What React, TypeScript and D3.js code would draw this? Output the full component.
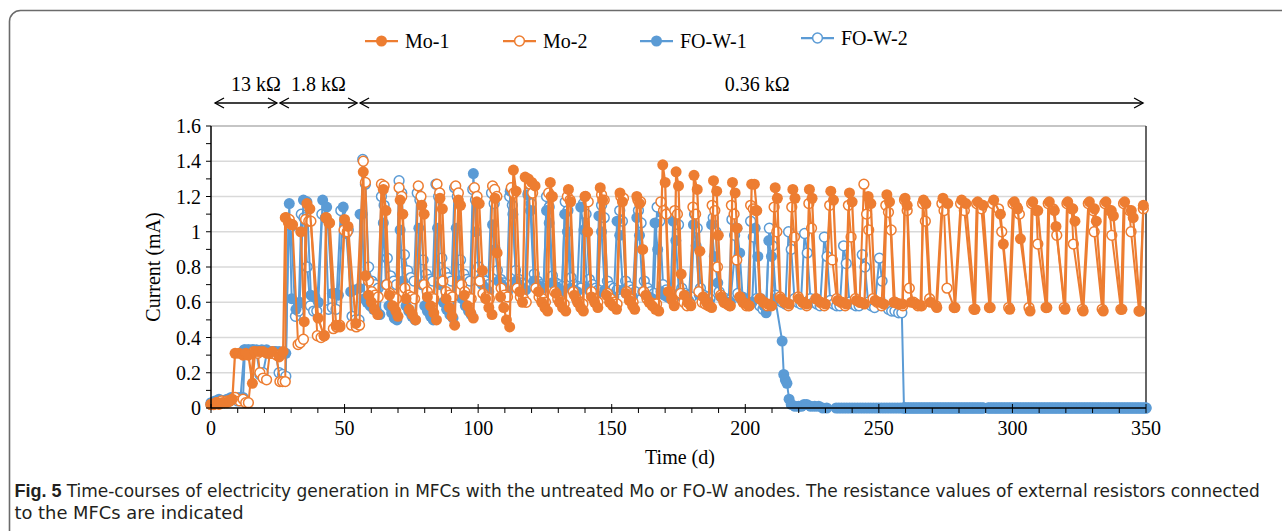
import React from 'react';
import * as d3 from 'd3';

const W = 1282;
const H = 531;
const ORANGE = '#ED7D31';
const BLUE = '#5B9BD5';

const xTicks = [0, 50, 100, 150, 200, 250, 300, 350];
const xMinorTicks = d3.range(0, 351, 10);
const yTicks = [0, 0.2, 0.4, 0.6, 0.8, 1, 1.2, 1.4, 1.6];
const yMinorTicks = d3.range(0, 1.61, 0.1);
const seriesNames = ['Mo-1', 'Mo-2', 'FO-W-1', 'FO-W-2'];

const resistors = [
  { label: '13 kΩ', from: 1.5, to: 24.7, at: 16.8 },
  { label: '1.8 kΩ', from: 25.8, to: 54.7, at: 40.2 },
  { label: '0.36 kΩ', from: 55.8, to: 348.9, at: 204.5 },
];

const mo1: [number, number][] = [
  [0,0.02],[1,0.02],[2,0.03],[3,0.02],[4,0.03],[5,0.03],[6,0.03],[7,0.04],[8,0.05],[9,0.31],[10.5,0.31],[12,0.3],[13,0.31],[14,0.3],[15.5,0.14],[16.5,0.32],[18,0.32],[19.5,0.32],[21,0.31],[23,0.32],[25.5,0.29],[27,0.32],
  [27.8,1.08],[29,1.05],[30.2,1.04],[33.6,1.0],[34.9,0.49],[35.9,1.16],[37,1.13],[40.1,0.51],[42.3,0.41],[43.2,1.08],[44.4,1.05],[46.8,0.47],[48.3,0.46],[50,1.07],[51.3,1.03],[54.2,0.48],
  [57,1.34],[57.8,0.75],[59,0.64],[60,0.6],[61.2,0.56],[62.4,0.53],
  [64.5,1.24],[65.5,1.12],[66.8,0.64],[68,0.58],[69.2,0.55],[70,0.52],
  [70.8,1.18],[71.8,1.1],[73,0.62],[74.2,0.56],[75.4,0.53],[76.6,0.5],
  [78.9,1.15],[79.8,1.1],[81,0.63],[82.2,0.58],[83.4,0.54],[84.4,0.5],
  [85.7,1.19],[86.6,1.13],[88,0.62],[89.2,0.57],[90.2,0.52],[91.2,0.47],
  [92.6,1.18],[93.4,1.15],[94.8,0.64],[96,0.58],[97.2,0.54],[98.2,0.51],
  [99.5,1.17],[100.4,1.16],[101.6,0.78],[102.8,0.62],[104,0.57],[105.2,0.53],
  [106.3,1.19],[107.1,0.88],[108.4,0.63],[109.6,0.57],[110.6,0.5],[111.8,0.46],
  [113.2,1.35],[114.2,1.23],[115.6,0.66],[116.6,0.6],[117.6,1.31],[118.8,1.3],[120.1,1.28],[121.3,1.26],[122.6,0.66],[123.8,0.6],[125,0.57],[126,0.55],
  [127,1.28],[127.8,1.2],[129.2,0.65],[130.4,0.6],[131.6,0.57],[132.8,0.55],
  [133.8,1.24],[134.6,1.17],[136,0.64],[137.2,0.6],[138.4,0.57],[139.4,0.55],
  [140,1.2],[141,1.0],[142.4,0.63],[143.6,0.6],[144.8,0.57],
  [145.7,1.25],[146.6,1.18],[148,0.64],[149.2,0.6],[150.4,0.58],[151.8,0.56],
  [153.1,1.22],[154,1.17],[155.4,0.65],[156.6,0.61],[157.8,0.58],[158.6,0.56],
  [159.4,1.2],[160.4,1.16],[161.6,0.9],[162.8,0.64],[164,0.6],[165.2,0.58],[166.4,0.56],[167.6,0.55],
  [169.1,1.38],[170,1.28],[171.2,0.66],[172.4,0.62],[173.4,0.58],
  [174.1,1.34],[175,1.26],[176,0.76],[177.2,0.64],[178.4,0.6],[179.6,0.58],
  [180.8,1.32],[182,1.24],[183,0.89],[184.2,0.63],[185.4,0.6],[186.6,0.58],[187.4,0.57],
  [188.1,1.29],[189.3,1.23],[189.9,0.98],[191,0.63],[192.2,0.6],[193.4,0.59],[194.4,0.58],
  [195.2,1.28],[196.2,1.22],[196.9,1.02],[198,0.63],[199.2,0.6],[200.4,0.59],[201.4,0.58],
  [202.4,1.27],[203.4,1.27],[204.3,1.12],[205.6,0.62],[207,0.6],[208.4,0.59],[209.8,0.58],
  [211.2,1.25],[212,1.19],[213.2,0.62],[214.8,0.6],[216.4,0.59],
  [217.8,1.24],[218.6,1.19],[220,0.62],[221.6,0.6],[223,0.59],
  [224,1.24],[225,1.19],[226.6,0.62],[228.2,0.6],[230,0.59],
  [232,1.23],[233,1.18],[234.6,0.61],[236.2,0.6],[237.8,0.59],
  [239,1.22],[240,1.17],[241.6,0.61],[243.2,0.6],[244.6,0.59],
  [246,1.2],[247,1.16],[248.6,0.61],[250.2,0.6],[251.8,0.59],
  [253,1.21],[254,1.17],[255.6,0.6],[257.2,0.59],[258.8,0.59],
  [259.8,1.19],[260.6,1.15],[262.2,0.6],[264,0.59],[265.6,0.58],
  [266.7,1.18],[267.6,1.16],[269.4,0.6],[271.7,0.57],
  [274,1.19],[275.8,1.16],[278.5,0.57],
  [281,1.18],[282.6,1.16],[286,0.56],
  [287,1.17],[289,1.15],[291.7,0.57],
  [293,1.18],[295.5,1.1],[296.6,0.93],[299,0.56],
  [300.7,1.17],[302,1.13],[303,0.96],[306.6,0.55],
  [307.6,1.17],[309.5,1.12],[312.9,0.57],
  [313.8,1.17],[315.7,1.12],[316.3,1.03],[319.7,0.56],
  [320.7,1.17],[322.6,1.13],[323.4,1.06],[326.5,0.55],
  [328.8,1.17],[330.7,1.13],[331.4,1.06],[334,0.55],
  [335,1.17],[337,1.12],[337.8,1.09],[341,0.56],
  [342,1.17],[344.5,1.12],[345.2,1.08],[347.8,0.55],
  [349,1.15],
];

const mo2: [number, number][] = [
  [0,0.02],[1,0.02],[2,0.03],[3,0.03],[4,0.04],[5,0.03],[6,0.04],[7,0.04],[8,0.05],[9,0.06],[10.8,0.04],[12,0.05],[13,0.03],[14,0.03],[16,0.32],[17.5,0.31],[18.3,0.2],[19.5,0.17],[20.8,0.16],[22,0.31],[23.3,0.31],[24.5,0.3],[25.8,0.15],[26.8,0.15],[27.8,0.15],
  [28.1,1.08],[29.3,1.07],[30.5,1.04],[32.6,0.36],[33.4,0.37],[34.6,0.39],[35.4,1.07],[36.6,1.06],[37.4,1.06],[39.8,0.41],[41.2,0.4],[42.4,0.41],[43,1.08],[44.2,1.05],[45.8,0.45],[47,0.46],[48.2,0.47],[49.8,1.01],[51,1.0],[52.6,0.47],[54.4,0.46],[55.6,0.47],
  [57,1.4],[57.8,1.28],[59,0.72],[60.2,0.66],[61.4,0.64],[62.6,0.63],
  [63.8,1.27],[64.8,1.26],[65.8,0.7],[67,0.65],[68.2,0.63],[69.4,0.62],
  [70.4,1.25],[71.4,1.2],[72.6,0.68],[73.8,0.64],[75,0.63],[76.2,0.62],
  [77.6,1.26],[78.6,1.2],[79.8,0.7],[81,0.66],[82.2,0.63],[83.4,0.62],
  [84.6,1.27],[85.6,1.22],[86.8,0.72],[88,0.66],[89.2,0.64],[90.4,0.63],
  [91.6,1.26],[92.6,1.22],[93.8,0.7],[95,0.66],[96.2,0.63],[97.4,0.62],
  [98.6,1.25],[99.6,1.2],[100.6,0.72],[101.8,0.65],[103,0.63],[104.2,0.62],
  [105.4,1.26],[106.2,1.24],[107,1.2],[108.6,0.68],[109.8,0.64],[111,0.63],
  [112.4,1.25],[113.4,1.22],[114.6,0.68],[115.8,0.63],[117,0.62],[118,0.6],
  [119.4,1.27],[120.4,1.22],[121.6,0.68],[122.8,0.63],[124,0.62],[125.2,0.6],
  [126.4,1.22],[127.4,1.2],[128.6,0.66],[129.8,0.62],[131,0.6],[132.2,0.59],
  [133.4,1.2],[134.4,1.18],[135.6,0.66],[136.8,0.62],[138,0.6],[139.2,0.59],
  [140.2,1.2],[141.2,1.17],[142.4,0.66],[143.6,0.62],[144.8,0.6],
  [146.2,1.21],[147.2,1.18],[148.4,0.65],[149.6,0.62],[150.8,0.6],[152,0.59],
  [153.4,1.2],[154.4,1.19],[155.6,0.66],[156.8,0.62],[158,0.6],
  [159.8,1.18],[160.8,1.17],[162,0.66],[163.2,0.62],[164.4,0.6],[165.6,0.59],[166.8,0.59],
  [168.4,1.17],[169.4,1.12],[170.4,1.1],[171.6,0.66],[172.8,0.61],
  [173.6,1.12],[174.6,1.1],[175.8,0.65],[177,0.6],[178.2,0.58],[179.4,0.59],
  [180.4,1.14],[181.4,1.1],[182.6,0.66],[183.8,0.6],[185,0.59],[186.2,0.58],
  [187.6,1.15],[188.6,1.12],[189.6,0.8],[190.8,0.64],[192,0.6],[193.2,0.59],[194.2,0.58],
  [194.8,1.15],[195.8,1.1],[196.8,0.84],[198,0.63],[199.2,0.6],[200.4,0.58],[201.4,0.58],
  [202,1.15],[203,1.13],[204,1.12],[205.4,0.62],[206.8,0.6],[208.2,0.58],[209.6,0.58],
  [210.8,1.14],[211.8,1.0],[213,0.63],[214.6,0.6],[216.2,0.58],
  [217.4,1.14],[218.4,0.97],[219.8,0.63],[221.4,0.6],[223,0.58],
  [223.8,1.16],[224.8,1.02],[226.4,0.62],[228,0.6],[229.6,0.58],
  [231.6,1.15],[232.6,0.84],[234.2,0.62],[235.8,0.6],[237.4,0.58],
  [238.6,1.15],[239.6,0.97],[241.2,0.62],[242.8,0.6],
  [244.4,1.27],[245.4,1.1],[246.2,1.01],[247.8,0.62],[249.4,0.6],[251,0.58],
  [252.6,1.15],[253.6,1.11],[254.6,1.01],[256,0.6],[257.6,0.59],[259,0.58],
  [259.6,1.18],[260.6,1.12],[261.4,0.68],[263,0.6],[264.6,0.58],[266,0.58],
  [266.4,1.16],[267.4,1.06],[269,0.62],[271.4,0.58],
  [273.6,1.16],[274.4,1.12],[275.5,0.68],[278.2,0.57],
  [280.6,1.16],[282,1.12],[285.6,0.56],
  [286.6,1.16],[288.4,1.13],[291.4,0.57],
  [292.6,1.16],[294.8,1.13],[296,1.0],[298.6,0.57],
  [300.2,1.16],[301.6,1.14],[302.6,1.1],[306.2,0.57],
  [307.2,1.16],[309,1.12],[309.5,0.93],[312.6,0.57],
  [313.4,1.16],[315.2,1.13],[316.6,0.98],[319.4,0.57],
  [320.4,1.16],[322.2,1.13],[322.8,0.93],[326.2,0.56],
  [328.4,1.16],[330.2,1.12],[330.6,1.0],[333.6,0.56],
  [334.6,1.16],[336.4,1.12],[337.2,0.98],[340.6,0.56],
  [341.6,1.16],[343.8,1.12],[344.4,1.0],[347.4,0.55],
  [349,1.13],
];

const foW1: [number, number][] = [
  [0,0.03],[1.5,0.04],[3,0.05],[4.5,0.04],[6,0.05],[7.5,0.06],[9,0.06],[10.5,0.06],[12,0.06],[12.7,0.33],[14,0.33],[15.5,0.33],[17,0.33],[19,0.33],[20.8,0.33],[22.5,0.32],[24,0.32],[25.5,0.32],[26.8,0.31],[28,0.31],
  [29.3,1.16],[30.2,0.62],[31.8,0.56],[33.2,0.6],[34.6,1.18],[35.9,1.17],[37.4,0.64],[38.9,0.63],[40.2,0.6],[41.8,1.18],[43.3,1.14],[45.4,0.65],[46.6,0.65],[47.7,0.64],[49.5,1.14],[50.6,0.99],[52.3,0.66],[53.6,0.67],[55.5,0.68],[55.8,1.1],
  [56.6,1.1],[57.4,0.62],[58.4,0.6],[59.6,0.58],[60.8,0.56],[62,0.55],[63.2,0.53],
  [64.5,1.05],[65.5,0.7],[66.6,0.58],[67.6,0.54],[68.6,0.51],[69.6,0.5],
  [70.8,1.01],[71.8,0.72],[73,0.58],[74,0.55],[75.2,0.52],[76.4,0.5],
  [77.8,1.02],[78.8,0.7],[80,0.58],[81,0.55],[82.2,0.52],[83.2,0.5],
  [84.8,1.02],[85.8,0.7],[87,0.6],[88.2,0.56],[89.4,0.53],[90.6,0.51],
  [91.8,1.02],[92.8,0.72],[94,0.62],[95.2,0.58],[96.4,0.55],[97.4,0.53],
  [98.2,1.33],[99.2,1.0],[100.4,0.72],[101.6,0.7],[102.8,0.68],[104,0.66],
  [105.4,1.04],[106.4,0.9],[107.6,0.72],[108.8,0.7],[110,0.68],[111,0.66],
  [112,1.23],[113,1.1],[114.2,0.72],[115.4,0.7],[116.6,0.68],[117.8,0.67],
  [118.6,1.21],[119.6,1.12],[120.8,0.72],[122,0.7],[123.2,0.69],[124.4,0.68],
  [125.6,1.12],[126.6,1.05],[127.8,0.71],[129,0.69],[130.2,0.68],[131.4,0.66],
  [132.4,1.1],[133.4,1.0],[134.6,0.68],[135.8,0.67],[137,0.66],
  [138.4,1.14],[139.6,1.01],[140.8,0.68],[142,0.66],[143.2,0.65],[144.2,0.64],
  [145.2,1.09],[146.2,1.0],[147.4,0.67],[148.6,0.65],[149.8,0.64],[150.8,0.63],
  [152,1.06],[153,0.98],[154.2,0.67],[155.4,0.65],[156.6,0.64],[157.8,0.63],
  [159.4,1.08],[160.4,0.98],[161.6,0.66],[162.8,0.64],[164,0.63],[165.2,0.62],
  [166.2,1.05],[167.2,0.9],[168.4,0.66],[169.6,0.64],[170.8,0.63],[172,0.62],
  [173,1.06],[174,0.95],[175.2,0.65],[176.4,0.63],[177.6,0.62],[178.8,0.61],
  [180.6,1.04],[181.6,0.92],[182.8,0.64],[184,0.62],[185.2,0.61],[186.4,0.6],
  [187.4,1.04],[188.4,0.86],[189.7,0.71],[190.8,0.63],[192,0.61],[193.2,0.6],[194.4,0.6],
  [196.9,1.02],[197.9,0.88],[199,0.63],[200.2,0.61],[201.4,0.6],[202.6,0.6],
  [203.7,1.02],[204.7,0.86],[205.8,0.62],[207,0.58],[207.8,0.54],[208.8,0.95],[209.8,0.86],[211.2,0.62],
  [213.8,0.38],[214.4,0.19],[215,0.16],[215.6,0.14],[216.4,0.05],[217.2,0.02],[218.6,0.01],[220,0.01],[221,0.01],[222,0.02],[223,0.02],[224.5,0.01],[226,0.01],[227.5,0.01],
];

const foW2: [number, number][] = [
  [0,0.02],[1,0.03],[2,0.03],[3,0.03],[4,0.04],[5,0.04],[6,0.04],[7,0.04],[8,0.05],[9,0.05],[10,0.04],[11,0.05],[12.5,0.33],[14,0.33],[15.5,0.33],[17,0.32],[18.3,0.19],[19.5,0.2],[21,0.32],[22.5,0.31],[24,0.32],[25.5,0.2],[26.8,0.19],[28,0.18],
  [29,1.06],[30,1.03],[31.6,0.52],[32.8,0.55],[33.8,1.1],[34.8,1.08],[36,0.8],[37.2,0.58],[38.4,0.55],[39.6,0.55],[41.5,1.1],[42.8,1.08],[44,0.56],[45.4,0.57],[46.8,0.56],[48.6,1.12],[50,1.02],[51.4,1.01],[52.8,0.52],[54,0.5],[55.4,0.5],
  [56.8,1.41],[57.8,1.27],[59,0.8],[60.2,0.72],[61.4,0.7],[62.6,0.68],
  [63.8,1.2],[64.8,1.15],[66,0.85],[67.2,0.75],[68.4,0.72],[69.4,0.7],
  [70.4,1.29],[71.4,1.22],[72.4,0.87],[73.6,0.78],[74.8,0.74],[76,0.72],
  [77.2,1.22],[78.2,1.18],[79.4,0.84],[80.6,0.76],[81.8,0.73],[83,0.72],
  [84.2,1.27],[85.2,1.2],[86.4,0.85],[87.6,0.77],[88.8,0.74],[90,0.72],
  [91.2,1.25],[92.2,1.2],[93.4,0.84],[94.6,0.76],[95.8,0.73],[97,0.72],
  [98,1.24],[99,1.18],[100.2,0.8],[101.4,0.74],[102.6,0.72],[103.8,0.7],
  [105,1.22],[106,1.16],[107.2,0.78],[108.4,0.73],[109.6,0.71],[110.8,0.7],
  [111.8,1.2],[112.8,1.15],[114,0.78],[115.2,0.73],[116.4,0.71],[117.6,0.7],
  [118.8,1.22],[119.8,1.16],[121,0.76],[122.2,0.72],[123.4,0.7],[124.6,0.69],
  [125.6,1.2],[126.6,1.14],[127.8,0.75],[129,0.71],[130.2,0.7],[131.4,0.69],
  [132.6,1.17],[133.6,1.12],[134.8,0.74],[136,0.7],[137.2,0.69],[138.4,0.68],
  [139.4,1.16],[140.4,1.1],[141.6,0.73],[142.8,0.7],[144,0.68],[145,0.67],
  [146.2,1.15],[147.2,1.08],[148.4,0.72],[149.6,0.69],[150.8,0.68],[152,0.67],
  [153,1.12],[154,1.06],[155.2,0.72],[156.4,0.69],[157.6,0.67],[158.8,0.66],
  [160,1.12],[161,1.05],[162.2,0.72],[163.4,0.68],[164.6,0.66],[165.8,0.65],
  [167,1.14],[168,1.06],[169.2,0.7],[170.4,0.67],[171.6,0.65],[172.8,0.64],
  [174,1.11],[175,1.04],[176.2,0.68],[177.4,0.65],[178.6,0.64],[179.8,0.63],
  [181,1.1],[182,1.02],[183.2,0.68],[184.4,0.64],[185.6,0.63],[186.8,0.62],
  [188,1.08],[189,1.0],[190.2,0.66],[191.4,0.63],[192.6,0.62],[193.8,0.61],
  [195,1.07],[196,0.98],[197.2,0.65],[198.4,0.62],[199.6,0.61],[200.8,0.6],
  [202,1.06],[203,0.97],[204.2,0.62],[205.4,0.58],[206.6,0.56],[207.8,0.58],
  [209,1.02],[210.2,0.92],[211.4,0.64],[212.6,0.61],[213.8,0.6],[215,0.59],
  [216.2,1.0],[217.2,0.9],[218.4,0.62],[219.6,0.6],[220.8,0.59],
  [222.2,0.99],[223.2,0.88],[224.4,0.62],[225.6,0.6],[226.8,0.59],[228,0.58],
  [229.6,0.97],[230.6,0.86],[231.8,0.61],[233,0.59],[234.2,0.58],[235.4,0.58],
  [236.8,0.92],[237.8,0.82],[239,0.6],[240.2,0.59],[241.4,0.58],[242.6,0.58],
  [243.8,0.87],[244.8,0.8],[246,0.6],[247.2,0.58],[248.4,0.57],
  [250.2,0.85],[251.2,0.72],[252.4,0.58],[253.6,0.56],[254.8,0.55],[256,0.55],[257.4,0.54],[258.6,0.54],[259.4,0],
];

// days on which the FO-W reactors read 0 mA after failure
const zeroDays = [
  229, 230.5, 234, 235, 236, 237, 238, 239, 240, 241, 242, 243, 244, 245, 246, 247, 248, 249, 250, 251, 252, 253, 254, 255, 256, 257, 258, 259,
  260, 261, 262, 263, 264, 265, 266, 267, 268, 269, 270, 271, 272, 273, 274, 275, 276, 277, 278, 279, 280, 281, 282, 283, 284, 285, 286, 287, 288, 289,
  291, 292, 293, 294, 295, 296, 297, 298, 299, 300, 301, 302, 303, 304, 305, 306, 307, 308, 309, 310, 311, 312, 313, 314, 315, 316, 317, 318, 319, 320,
  321, 322, 323, 324, 325, 326, 327, 328, 329, 330, 331, 332, 333, 334, 335, 336, 337, 338, 339, 340, 341, 342, 343, 344, 345, 346, 347, 348, 349, 350,
];

const SERIF = '"Liberation Serif", "Times New Roman", serif';
const CAPTION_FONT = '"Liberation Sans Narrow", "DejaVu Sans Condensed", "Liberation Sans", sans-serif';

export default function App() {
  const x = d3.scaleLinear().domain([0, 350]).range([211, 1146]);
  const y = d3.scaleLinear().domain([0, 1.6]).range([408, 126]);
  const line = d3.line<[number, number]>().x((d) => x(d[0])).y((d) => y(d[1]));

  const fo1Full: [number, number][] = [...foW1, ...zeroDays.map((d) => [d, 0] as [number, number])];
  const fo2Full: [number, number][] = [...foW2, ...zeroDays.filter((d) => d >= 260).map((d) => [d, 0] as [number, number])];

  const series = [
    { name: seriesNames[3], data: fo2Full, color: BLUE, filled: false, lw: 2 },
    { name: seriesNames[2], data: fo1Full, color: BLUE, filled: true, lw: 2 },
    { name: seriesNames[1], data: mo2, color: ORANGE, filled: false, lw: 2 },
    { name: seriesNames[0], data: mo1, color: ORANGE, filled: true, lw: 2.25 },
  ];

  const legend = [
    { name: seriesNames[0], color: ORANGE, filled: true, x0: 365, ty: 41 },
    { name: seriesNames[1], color: ORANGE, filled: false, x0: 503, ty: 41 },
    { name: seriesNames[2], color: BLUE, filled: true, x0: 640, ty: 41 },
    { name: seriesNames[3], color: BLUE, filled: false, x0: 801, ty: 38 },
  ];

  const y0 = y(0);
  const arrowY = 103;

  const marker = (cx: number, cy: number, color: string, filled: boolean, key: any) =>
    filled ? (
      <circle key={key} cx={cx} cy={cy} r={5.5} fill={color} />
    ) : (
      <circle key={key} cx={cx} cy={cy} r={4.9} fill="#fff" stroke={color} strokeWidth={1.5} />
    );

  return (
    <svg
      width={W}
      height={H}
      viewBox={`0 0 ${W} ${H}`}
      style={{ position: 'absolute', left: 0, top: 0, display: 'block', background: '#fff' }}
    >
      <rect x={9.5} y={10.5} width={1300} height={560} rx={11} ry={11} fill="#fff" stroke="#6b6b6b" strokeWidth={1.6} />

      {/* gridlines */}
      {yTicks.filter((t) => t > 0 && t < 1.6).map((t) => (
        <line key={'g' + t} x1={x(0)} x2={x(350)} y1={y(t)} y2={y(t)} stroke="#d9d9d9" strokeWidth={1.5} />
      ))}
      {/* plot border top/right */}
      <line x1={x(0)} x2={x(350)} y1={y(1.6)} y2={y(1.6)} stroke="#8c8c8c" strokeWidth={1.2} />
      <line x1={x(350)} x2={x(350)} y1={y(1.6)} y2={y0} stroke="#333" strokeWidth={1.5} />

      {/* series */}
      {series.map((s) => (
        <g key={s.name}>
          <path d={line(s.data) || ''} fill="none" stroke={s.color} strokeWidth={s.lw} strokeLinejoin="round" />
          {s.data.map((d, i) => marker(x(d[0]), y(d[1]), s.color, s.filled, i))}
        </g>
      ))}

      {/* axes */}
      <line x1={x(0)} x2={x(0)} y1={y(1.6)} y2={y0} stroke="#000" strokeWidth={1.5} />
      <line x1={x(0)} x2={x(350)} y1={y0} y2={y0} stroke="#000" strokeWidth={1.5} />
      {yMinorTicks.map((t) => (
        <line key={'yt' + t} x1={x(0) - 5} x2={x(0)} y1={y(t)} y2={y(t)} stroke="#000" strokeWidth={1} />
      ))}
      {xMinorTicks.map((t) => (
        <line key={'xt' + t} x1={x(t)} x2={x(t)} y1={y0 - (t % 50 === 0 ? 4 : 0)} y2={y0 + 5} stroke="#000" strokeWidth={1} />
      ))}
      {yTicks.map((t) => (
        <text key={'yl' + t} x={201} y={y(t) + 7} textAnchor="end" fontFamily={SERIF} fontSize={20} fill="#000">
          {d3.format('~g')(t)}
        </text>
      ))}
      {xTicks.map((t) => (
        <text key={'xl' + t} x={x(t)} y={435} textAnchor="middle" fontFamily={SERIF} fontSize={20} fill="#000">
          {t}
        </text>
      ))}
      <text x={680} y={464} textAnchor="middle" fontFamily={SERIF} fontSize={20} fill="#000">
        Time (d)
      </text>
      <text transform={`translate(160,267) rotate(-90)`} textAnchor="middle" fontFamily={SERIF} fontSize={20} fill="#000">
        Current (mA)
      </text>

      {/* resistor annotations */}
      {resistors.map((r) => (
        <g key={r.label}>
          <text x={x(r.at)} y={91} textAnchor="middle" fontFamily={SERIF} fontSize={20} fill="#000">
            {r.label}
          </text>
          <line x1={x(r.from)} x2={x(r.to)} y1={arrowY} y2={arrowY} stroke="#000" strokeWidth={1.3} />
          <polyline
            points={`${x(r.from) + 9},${arrowY - 5} ${x(r.from)},${arrowY} ${x(r.from) + 9},${arrowY + 5}`}
            fill="none"
            stroke="#000"
            strokeWidth={1.3}
          />
          <polyline
            points={`${x(r.to) - 9},${arrowY - 5} ${x(r.to)},${arrowY} ${x(r.to) - 9},${arrowY + 5}`}
            fill="none"
            stroke="#000"
            strokeWidth={1.3}
          />
        </g>
      ))}

      {/* legend */}
      {legend.map((l) => (
        <g key={l.name}>
          <line x1={l.x0} x2={l.x0 + 33} y1={l.ty} y2={l.ty} stroke={l.color} strokeWidth={2.25} />
          {marker(l.x0 + 16.5, l.ty, l.color, l.filled, 'm')}
          <text x={l.x0 + 40} y={l.ty + 7} fontFamily={SERIF} fontSize={20} fill="#000">
            {l.name}
          </text>
        </g>
      ))}

      {/* caption */}
      <text
        x={14.5}
        y={497}
        fontFamily={'"Liberation Sans", "Open Sans", sans-serif'}
        fontWeight="bold"
        fontSize={18}
        fill="#231f20"
        textLength={47}
        lengthAdjust="spacingAndGlyphs"
      >
        Fig. 5
      </text>
      <text
        x={66.7}
        y={497}
        fontFamily={CAPTION_FONT}
        fontSize={18}
        fill="#231f20"
        textLength={1193}
        lengthAdjust="spacingAndGlyphs"
      >
        Time-courses of electricity generation in MFCs with the untreated Mo or FO-W anodes. The resistance values of external resistors connected
      </text>
      <text
        x={14.5}
        y={519}
        fontFamily={CAPTION_FONT}
        fontSize={18}
        fill="#231f20"
        textLength={229}
        lengthAdjust="spacingAndGlyphs"
      >
        to the MFCs are indicated
      </text>
    </svg>
  );
}
